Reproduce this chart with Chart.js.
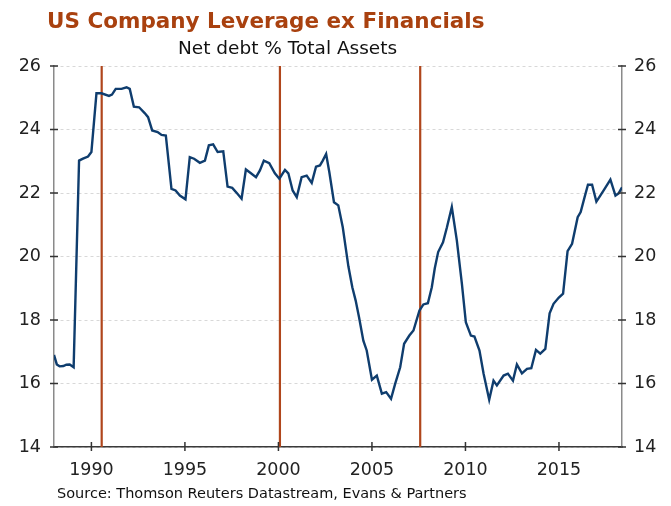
<!DOCTYPE html>
<html>
<head>
<meta charset="utf-8">
<script src="https://cdn.jsdelivr.net/npm/chart.js@4"></script>
<style>
  body { margin: 0; background: #fff; }
  #wrap { position: relative; width: 671px; height: 506px; overflow: hidden; }
  #chart { position: absolute; left: 0; top: 0; }
  .txt { position: absolute; white-space: nowrap; font-family: "DejaVu Sans", Verdana, sans-serif; }
  #title { left: 47px; top: 8px; font-size: 21.5px; font-weight: bold; color: #a9410f; }
  #subtitle { left: 178px; top: 37px; font-size: 18.5px; color: #111; }
  #source { left: 57px; top: 485px; font-size: 14.5px; color: #111; }
</style>
</head>
<body>
<div id="wrap">
  <canvas id="chart" width="671" height="506"></canvas>
  <div class="txt" id="title">US Company Leverage ex Financials</div>
  <div class="txt" id="subtitle">Net debt % Total Assets</div>
  <div class="txt" id="source">Source: Thomson Reuters Datastream, Evans &amp; Partners</div>
</div>
<script>
// Net debt % total assets (decimal years)
const years = [
  1988.0, 1988.15, 1988.3, 1988.5, 1988.66, 1988.84, 1989.05, 1989.34, 1989.55, 1989.82,
  1990.0, 1990.27, 1990.54, 1990.94, 1991.1, 1991.3, 1991.61, 1991.88, 1992.05, 1992.27,
  1992.55, 1992.86, 1993.03, 1993.25, 1993.54, 1993.75, 1993.98, 1994.28, 1994.5, 1994.73,
  1995.03, 1995.26, 1995.49, 1995.8, 1996.07, 1996.28, 1996.51, 1996.75, 1997.05, 1997.28,
  1997.53, 1997.82, 1998.03, 1998.26, 1998.53, 1998.8, 1999.01, 1999.22, 1999.51, 1999.81,
  2000.05, 2000.35, 2000.53, 2000.76, 2000.98, 2001.24, 2001.51, 2001.78, 2002.01, 2002.22,
  2002.37, 2002.55, 2002.72, 2002.97, 2003.2, 2003.44, 2003.74, 2003.95, 2004.13, 2004.31,
  2004.54, 2004.72, 2005.0, 2005.26, 2005.53, 2005.76, 2006.02, 2006.24, 2006.51, 2006.72,
  2007.0, 2007.22, 2007.54, 2007.75, 2007.99, 2008.2, 2008.36, 2008.54, 2008.8, 2009.01,
  2009.27, 2009.54, 2009.81, 2010.02, 2010.29, 2010.48, 2010.75, 2010.97, 2011.27, 2011.5,
  2011.68, 2012.04, 2012.27, 2012.54, 2012.75, 2013.02, 2013.29, 2013.52, 2013.77, 2014.0,
  2014.27, 2014.5, 2014.71, 2014.98, 2015.22, 2015.46, 2015.7, 2016.0, 2016.16, 2016.37,
  2016.55, 2016.77, 2017.0, 2017.21, 2017.44, 2017.75, 2018.02, 2018.19, 2018.37
];
const leverage = [
  16.9, 16.6, 16.54, 16.55, 16.59, 16.6, 16.51, 23.02, 23.08, 23.15,
  23.29, 25.14, 25.14, 25.06, 25.1, 25.28, 25.28, 25.33, 25.28, 24.72,
  24.7, 24.51, 24.39, 23.97, 23.92, 23.83, 23.81, 22.13, 22.08, 21.92,
  21.8, 23.13, 23.08, 22.95, 23.02, 23.5, 23.53, 23.29, 23.31, 22.2,
  22.16, 21.97, 21.82, 22.74, 22.62, 22.5, 22.71, 23.02, 22.94, 22.62,
  22.45, 22.73, 22.62, 22.08, 21.87, 22.5, 22.55, 22.32, 22.83, 22.87,
  23.02, 23.23, 22.66, 21.71, 21.61, 20.92, 19.69, 19.03, 18.61, 18.09,
  17.35, 17.04, 16.12, 16.25, 15.68, 15.73, 15.52, 15.99, 16.51, 17.25,
  17.51, 17.67, 18.3, 18.49, 18.53, 19.03, 19.63, 20.14, 20.45, 20.92,
  21.56, 20.5, 19.14, 17.93, 17.51, 17.48, 17.04, 16.31, 15.49, 16.09,
  15.94, 16.25, 16.31, 16.09, 16.6, 16.32, 16.46, 16.48, 17.06, 16.94,
  17.09, 18.21, 18.51, 18.7, 18.83, 20.17, 20.4, 21.24, 21.4, 21.87,
  22.26, 22.26, 21.73, 21.92, 22.13, 22.42, 21.92, 21.99, 22.18
];

// vertical marker lines
const markerYears = [1990.55, 2000.08, 2007.58];

const xTicks = [1990, 1995, 2000, 2005, 2010, 2015];
const yTicks = [14, 16, 18, 20, 22, 24, 26];
const xMin = 1988, xMax = 2018.37;
const yMin = 14, yMax = 26;

const tickFont = { family: 'DejaVu Sans', size: 17.5 };

const datasets = [{
  data: years.map((yr, i) => ({ x: yr, y: leverage[i] })),
  borderColor: '#0f3d6e',
  borderWidth: 2.4,
  pointRadius: 0,
  tension: 0,
  yAxisID: 'y',
  order: 0
}];
markerYears.forEach(yr => {
  datasets.push({
    data: [{ x: yr, y: yMin }, { x: yr, y: yMax }],
    borderColor: '#b0461c',
    borderWidth: 2.2,
    pointRadius: 0,
    yAxisID: 'y',
    order: 1
  });
});

// small tick marks that cross the axis lines
const crossTicks = {
  id: 'crossTicks',
  afterDraw(chart) {
    const ctx = chart.ctx;
    const x = chart.scales.x, y = chart.scales.y, y2 = chart.scales.y2;
    ctx.save();
    ctx.lineWidth = 1.5;
    ctx.strokeStyle = '#333';
    yTicks.forEach(v => {
      const py = y.getPixelForValue(v);
      ctx.beginPath();
      ctx.moveTo(y.right - 4, py); ctx.lineTo(y.right + 4, py);
      ctx.moveTo(y2.left - 4, py); ctx.lineTo(y2.left + 4, py);
      ctx.stroke();
    });
    xTicks.forEach(v => {
      const px = x.getPixelForValue(v);
      ctx.beginPath();
      ctx.moveTo(px, x.top - 5); ctx.lineTo(px, x.top + 4);
      ctx.stroke();
    });
    ctx.restore();
  }
};

new Chart(document.getElementById('chart'), {
  type: 'line',
  data: { datasets: datasets },
  options: {
    responsive: false,
    animation: false,
    devicePixelRatio: 1,
    layout: { padding: { top: 66, left: 0, right: 0, bottom: 0 } },
    plugins: { legend: { display: false }, tooltip: { enabled: false } },
    scales: {
      x: {
        type: 'linear',
        min: xMin,
        max: xMax,
        afterBuildTicks: s => { s.ticks = xTicks.map(v => ({ value: v })); },
        afterFit: s => { s.height = 59; },
        ticks: { font: tickFont, color: '#222', padding: 13, maxRotation: 0, callback: v => String(v) },
        grid: { display: false, drawTicks: false },
        border: { color: '#3a3a3a', width: 1.5 }
      },
      y: {
        position: 'left',
        min: yMin,
        max: yMax,
        afterBuildTicks: s => { s.ticks = yTicks.map(v => ({ value: v })); },
        afterFit: s => { s.width = 54; },
        ticks: { font: tickFont, color: '#222', padding: 13 },
        grid: { color: '#d8d8d8', lineWidth: 1, drawTicks: false },
        border: { color: '#8a8a8a', width: 1.5, dash: [3, 3] }
      },
      y2: {
        position: 'right',
        min: yMin,
        max: yMax,
        afterBuildTicks: s => { s.ticks = yTicks.map(v => ({ value: v })); },
        afterFit: s => { s.width = 49; },
        ticks: { font: tickFont, color: '#222', padding: 12 },
        grid: { drawOnChartArea: false, drawTicks: false },
        border: { color: '#8a8a8a', width: 1.5 }
      }
    }
  },
  plugins: [crossTicks]
});
</script>
</body>
</html>
